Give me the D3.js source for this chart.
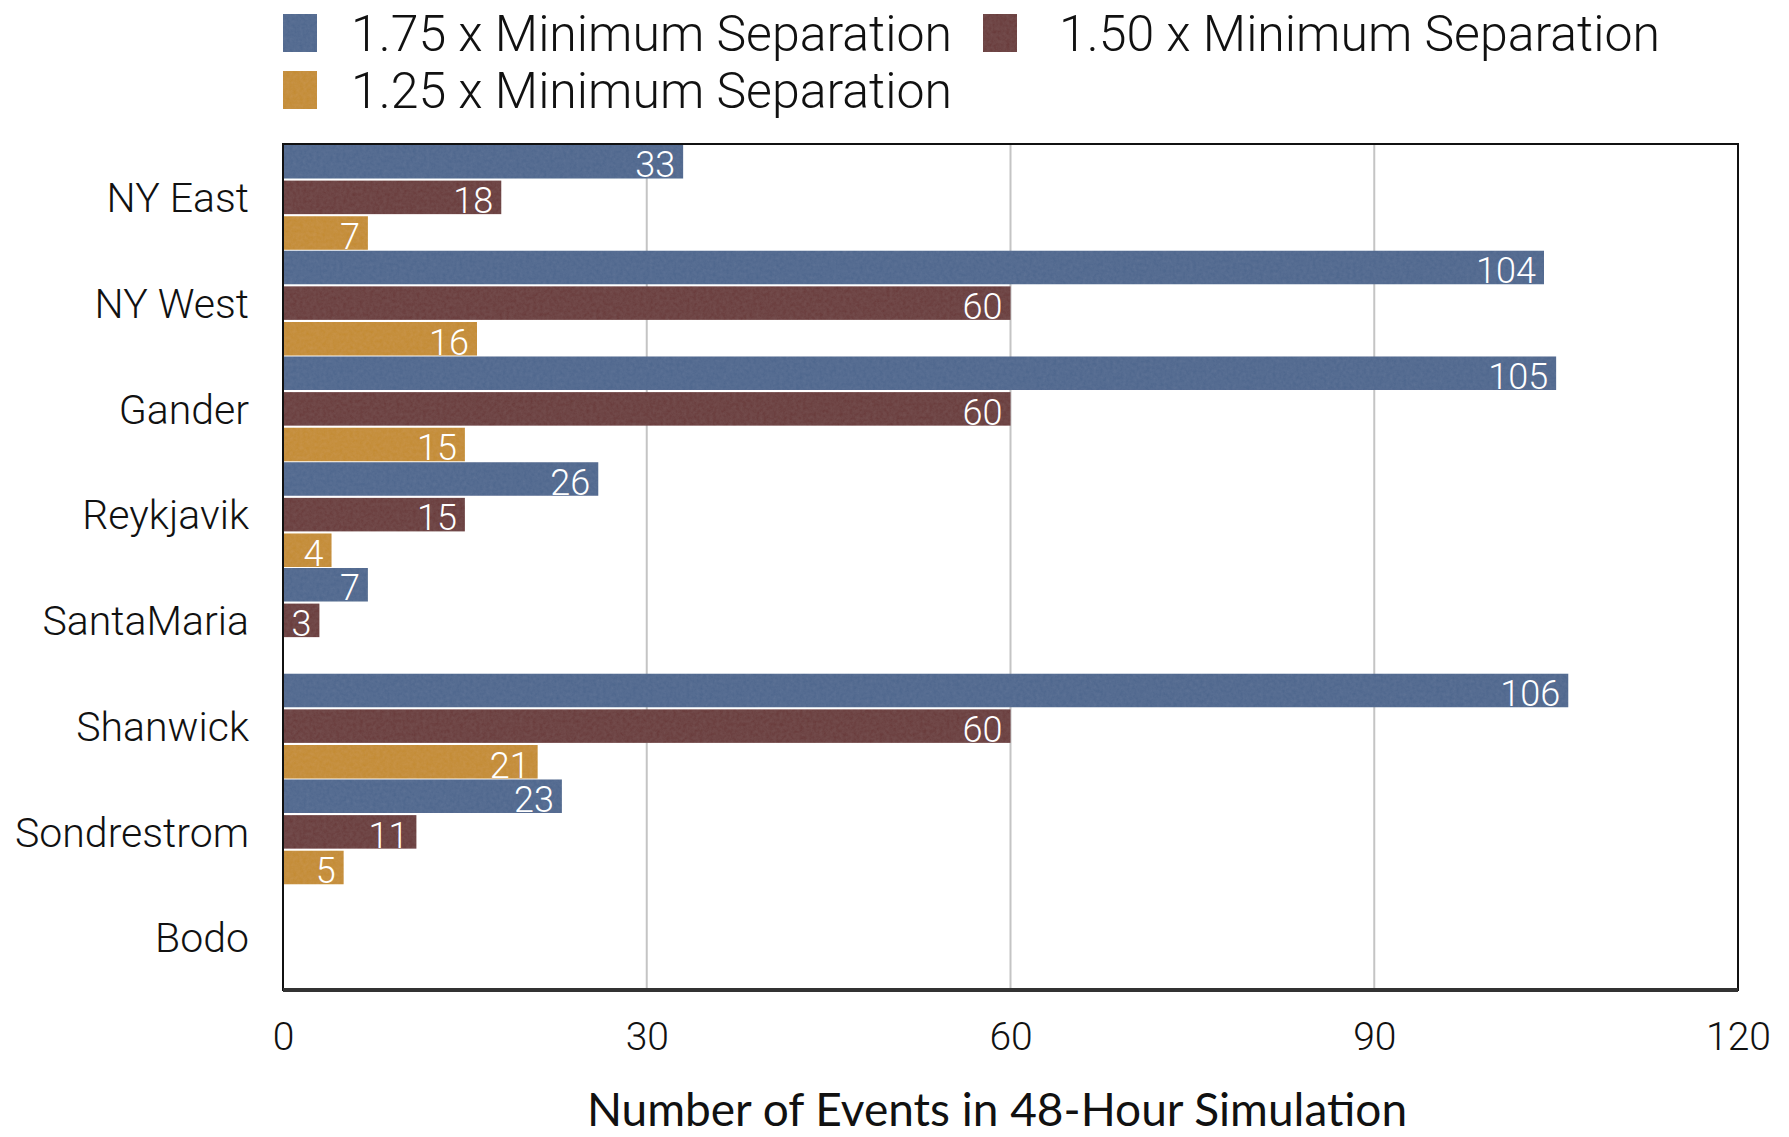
<!DOCTYPE html>
<html><head><meta charset="utf-8">
<script src="https://cdn.jsdelivr.net/npm/d3@7"></script>
<style>
html,body{margin:0;padding:0;background:#fff;}
svg{display:block;}
</style></head>
<body>
<svg id="chart" width="1789" height="1137"></svg>
<script>
const categories = ["NY East","NY West","Gander","Reykjavik","SantaMaria","Shanwick","Sondrestrom","Bodo"];
const seriesNames = ["1.75 x Minimum Separation","1.50 x Minimum Separation","1.25 x Minimum Separation"];
const sep175 = [33,104,105,26,7,106,23,null];
const sep150 = [18,60,60,15,3,60,11,null];
const sep125 = [7,16,15,4,null,21,5,null];
const xTicks = [0,30,60,90,120];
const xTitle = "Number of Events in 48-Hour Simulation";
const colors = ["#4a638f","#682e32","#c88c26"];

const svg = d3.select("#chart");
const M = {left:283, right:1738, top:144, bottom:990};

const defs = svg.append("defs");
colors.forEach((c,i)=>{
  const f = defs.append("filter").attr("id","tex"+i).attr("x",0).attr("y",0).attr("width",1).attr("height",1);
  f.append("feTurbulence").attr("type","fractalNoise").attr("baseFrequency","0.3").attr("numOctaves",3).attr("seed",i+3).attr("result","n");
  f.append("feColorMatrix").attr("in","n").attr("type","matrix")
   .attr("values","0.5 0 0 0 0.15  0.5 0 0 0 0.2  0.5 0 0 0 0.15  0 0 0 0 0.08").attr("result","m");
  f.append("feComposite").attr("in","m").attr("in2","SourceGraphic").attr("operator","in").attr("result","c");
  f.append("feMerge").call(s=>{s.append("feMergeNode").attr("in","SourceGraphic");s.append("feMergeNode").attr("in","c");});
});

const x = d3.scaleLinear().domain([0,120]).range([M.left,M.right]);
const y0 = d3.scaleBand().domain(categories).range([M.top,M.bottom]).padding(0);
const y1 = d3.scaleBand().domain(d3.range(3)).range([1, y0.bandwidth()]).paddingInner(0.06).paddingOuter(0);

// gridlines
svg.append("g").selectAll("line").data(xTicks.slice(1,-1)).join("line")
  .attr("x1",d=>x(d)).attr("x2",d=>x(d)).attr("y1",M.top).attr("y2",M.bottom)
  .attr("stroke","#c4c4c4").attr("stroke-width",2);

const series = [sep175, sep150, sep125];
const rows = [];
categories.forEach((c,ci)=>series.forEach((s,si)=>{ if(s[ci]!=null) rows.push({c, si, v:s[ci]}); }));

const g = svg.append("g");
g.selectAll("rect").data(rows).join("rect")
  .attr("x",x(0)).attr("y",d=>y0(d.c)+y1(d.si))
  .attr("width",d=>x(d.v)-x(0)).attr("height",y1.bandwidth())
  .attr("fill",d=>colors[d.si]).attr("filter",d=>`url(#tex${d.si})`);

g.selectAll("text").data(rows).join("text")
  .attr("x",d=>x(d.v)-8).attr("y",d=>y0(d.c)+y1(d.si)+y1.bandwidth()-1)
  .attr("text-anchor","end").attr("fill","#fff")
  .attr("font-family","Roboto").attr("font-weight",300).attr("font-size",36)
  .text(d=>d.v);

// frame
svg.append("rect").attr("x",M.left).attr("y",M.top).attr("width",M.right-M.left).attr("height",M.bottom-M.top)
  .attr("fill","none").attr("stroke","#111").attr("stroke-width",2);
svg.append("line").attr("x1",M.left).attr("x2",M.right).attr("y1",M.bottom).attr("y2",M.bottom).attr("stroke","#333").attr("stroke-width",4);

// y labels
const yAxis = d3.axisLeft(y0).tickSize(0).tickPadding(34);
const ya = svg.append("g").attr("transform",`translate(${M.left},2)`).call(yAxis);
ya.select(".domain").remove();
ya.selectAll("text").attr("font-family","Roboto").attr("font-weight",300).attr("font-size",41).attr("fill","#111");

// x axis
const xAxis = d3.axisBottom(x).tickValues(xTicks).tickSize(0).tickPadding(32);
const xa = svg.append("g").attr("transform",`translate(0,${M.bottom})`).call(xAxis);
xa.select(".domain").remove();
xa.selectAll("text").attr("font-family","Roboto").attr("font-weight",300).attr("font-size",39).attr("fill","#111");

svg.append("text").attr("x",997).attr("y",1126).attr("text-anchor","middle")
  .attr("font-family","Lato").attr("font-size",46).attr("fill","#111").text(xTitle);

// legend
const legPos = [[283,0,351],[983,0,1059],[283,1,351]];
const leg = svg.append("g").selectAll("g").data(seriesNames).join("g")
  .attr("transform",(d,i)=>`translate(0,${14+legPos[i][1]*57})`);
leg.append("rect").attr("x",(d,i)=>legPos[i][0]).attr("width",34).attr("height",38).attr("fill",(d,i)=>colors[i]).attr("filter",(d,i)=>`url(#tex${i})`);
leg.append("text").attr("x",(d,i)=>legPos[i][2]).attr("y",37).attr("font-family","Roboto").attr("font-weight",300).attr("font-size",50).attr("fill","#111").text(d=>d);
</script>
</body></html>
